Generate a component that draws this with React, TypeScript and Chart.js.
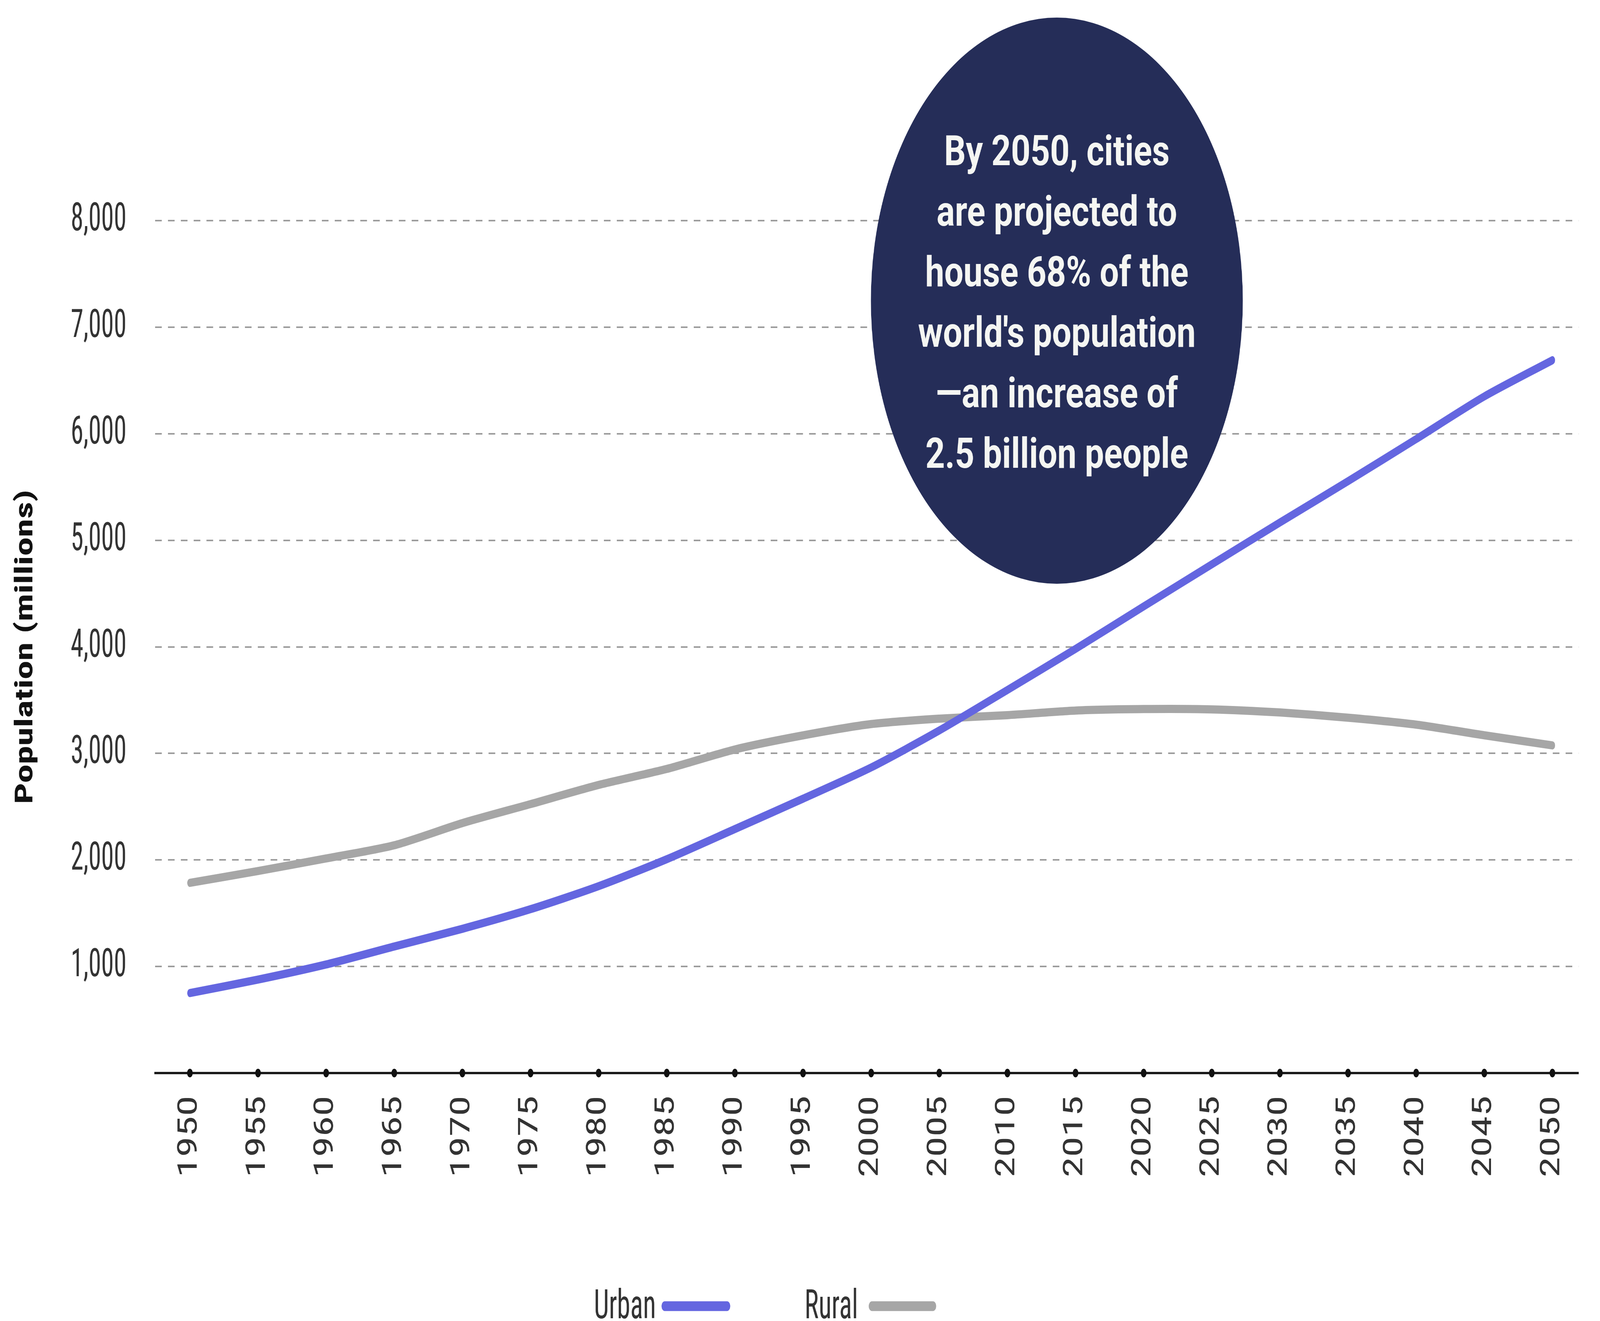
import React, { useEffect, useRef } from "react";
import { Chart, registerables } from "chart.js";

Chart.register(...registerables);

// ---------- data ----------
const YEARS = [1950, 1955, 1960, 1965, 1970, 1975, 1980, 1985, 1990, 1995, 2000, 2005, 2010, 2015, 2020, 2025, 2030, 2035, 2040, 2045, 2050];
const URBAN = [751, 877, 1019, 1188, 1354, 1538, 1754, 2007, 2290, 2575, 2868, 3215, 3595, 3981, 4379, 4774, 5167, 5555, 5950, 6350, 6690];
const RURAL = [1785, 1896, 2014, 2138, 2346, 2524, 2704, 2854, 3037, 3169, 3275, 3326, 3359, 3402, 3416, 3413, 3384, 3335, 3270, 3170, 3075];
const Y_TICKS = [0, 1000, 2000, 3000, 4000, 5000, 6000, 7000, 8000];
const SERIES_LABELS = ["Urban", "Rural"];
const Y_TITLE = "Population (millions)";
const CALLOUT_LINES = [
  "By 2050, cities",
  "are projected to",
  "house 68% of the",
  "world's population",
  "\u2014an increase of",
  "2.5 billion people",
];

// ---------- styling / layout ----------
const W = 6239;
const H = 3383;
const NARROW = '"Roboto Condensed", "DejaVu Sans Condensed", sans-serif';
const URBAN_COLOR = "#6466e0";
const RURAL_COLOR = "#a6a6a6";
const NAVY = "#252d58";
const TEXT_COLOR = "#333333";

const calloutPlugin = {
  id: "callout",
  afterDraw(chart: any) {
    const ctx = chart.ctx;
    const cx = 4121;
    ctx.save();
    ctx.beginPath();
    ctx.arc(cx, 770, 725, 0, Math.PI * 2);
    ctx.fillStyle = NAVY;
    ctx.fill();
    ctx.fillStyle = "#f5f6f2";
    ctx.font = "bold 108px Roboto, 'Noto Sans', sans-serif";
    ctx.textAlign = "center";
    ctx.textBaseline = "alphabetic";
    ctx.translate(cx, 0);
    ctx.scale(1.23, 1);
    CALLOUT_LINES.forEach((line, i) => {
      ctx.fillText(line, 0, 423 + i * 155);
    });
    ctx.restore();
  },
};

const axisDotsPlugin = {
  id: "axisDots",
  afterDraw(chart: any) {
    const ctx = chart.ctx;
    const xs = chart.scales.x;
    const y = chart.chartArea.bottom;
    ctx.save();
    ctx.fillStyle = "#111";
    xs.ticks.forEach((t: any) => {
      const px = xs.getPixelForValue(t.value);
      ctx.beginPath();
      ctx.arc(px, y, 11, 0, Math.PI * 2);
      ctx.fill();
    });
    ctx.restore();
  },
};

const legendPlugin = {
  id: "customLegend",
  afterDraw(chart: any) {
    const ctx = chart.ctx;
    const items = [
      { textX: 2316, x1: 2592, x2: 2835 },
      { textX: 3137, x1: 3400, x2: 3638 },
    ];
    ctx.save();
    ctx.font = `104px ${NARROW}`;
    ctx.textAlign = "left";
    ctx.textBaseline = "alphabetic";
    chart.data.datasets.forEach((ds: any, i: number) => {
      const it = items[i];
      ctx.fillStyle = TEXT_COLOR;
      ctx.fillText(ds.label, it.textX, 3376);
      ctx.strokeStyle = ds.borderColor;
      ctx.lineWidth = 25;
      ctx.lineCap = "round";
      ctx.beginPath();
      ctx.moveTo(it.x1, 3345);
      ctx.lineTo(it.x2, 3345);
      ctx.stroke();
    });
    ctx.restore();
  },
};

export default function App() {
  const ref = useRef<HTMLCanvasElement | null>(null);

  useEffect(() => {
    document.body.style.margin = "0";
    document.body.style.overflow = "hidden";
    const canvas = ref.current;
    if (!canvas) return;
    const chart = new Chart(canvas, {
      type: "line",
      data: {
        datasets: [
          {
            label: SERIES_LABELS[0],
            data: YEARS.map((x, i) => ({ x, y: URBAN[i] })),
            borderColor: URBAN_COLOR,
            borderWidth: 21,
            pointRadius: 0,
            tension: 0.25,
            borderCapStyle: "round",
            borderJoinStyle: "round",
            fill: false,
          },
          {
            label: SERIES_LABELS[1],
            data: YEARS.map((x, i) => ({ x, y: RURAL[i] })),
            borderColor: RURAL_COLOR,
            borderWidth: 21,
            pointRadius: 0,
            tension: 0.25,
            borderCapStyle: "round",
            borderJoinStyle: "round",
            fill: false,
          },
        ],
      },
      options: {
        animation: false,
        responsive: false,
        devicePixelRatio: 1,
        layout: { padding: { top: 565, right: 19, bottom: 0, left: 0 } },
        plugins: {
          legend: { display: false },
          tooltip: { enabled: false },
        },
        scales: {
          x: {
            type: "linear",
            min: 1947.45,
            max: 2051.92,
            afterBuildTicks: (scale: any) => {
              scale.ticks = YEARS.map((v) => ({ value: v }));
            },
            afterFit: (scale: any) => {
              scale.height = 635;
            },
            grid: { display: false, drawTicks: false },
            border: { display: true, color: "#1a1a1a", width: 6 },
            ticks: {
              autoSkip: false,
              minRotation: 90,
              maxRotation: 90,
              padding: 58,
              color: TEXT_COLOR,
              font: { family: NARROW, size: 106 },
              callback: (v: any) => String(v),
            },
          },
          y: {
            type: "linear",
            min: 0,
            max: 8000,
            afterBuildTicks: (scale: any) => {
              scale.ticks = Y_TICKS.map((v) => ({ value: v }));
            },
            afterFit: (scale: any) => {
              scale.width = 605;
            },
            border: { display: false, dash: [26, 24] },
            grid: {
              drawTicks: false,
              color: "#9c9c9c",
              lineWidth: 4,
            },
            ticks: {
              padding: 112,
              color: TEXT_COLOR,
              font: { family: NARROW, size: 100 },
              callback: (v: any) => (v === 0 ? "" : Number(v).toLocaleString("en-US")),
            },
            title: {
              display: true,
              text: Y_TITLE,
              color: "#111",
              font: { family: NARROW, size: 96, weight: "bold" },
              padding: { top: 44, bottom: 0 },
            },
          },
        },
      },
      plugins: [axisDotsPlugin, legendPlugin, calloutPlugin],
    } as any);
    return () => chart.destroy();
  }, []);

  return (
    <div style={{ position: "fixed", left: 0, top: 0, width: "100vw", height: "100vh", background: "#fff" }}>
      <canvas ref={ref} width={W} height={H} style={{ width: "100vw", height: "100vh", display: "block" }} />
    </div>
  );
}
